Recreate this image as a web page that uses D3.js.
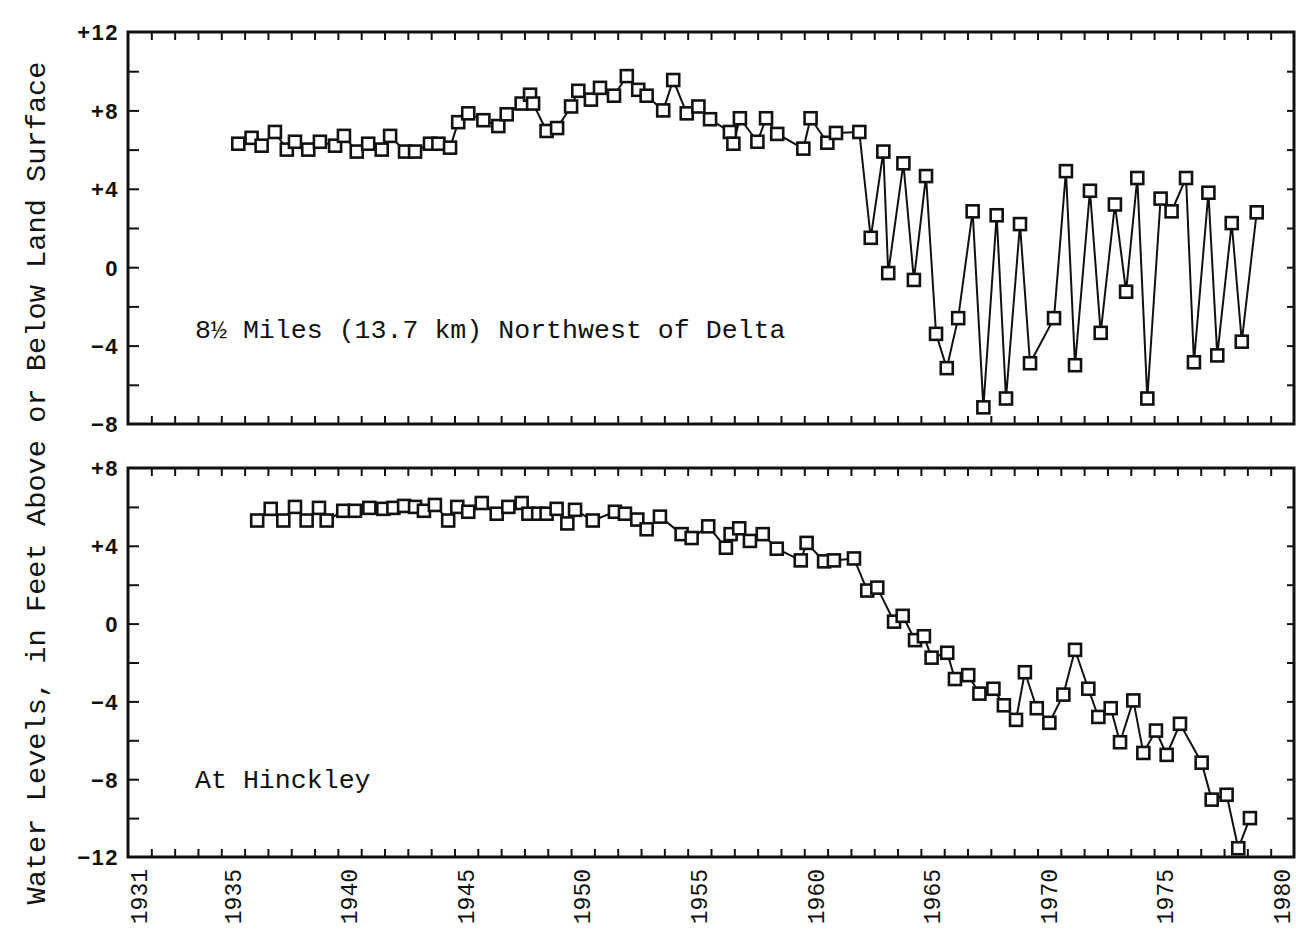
<!DOCTYPE html>
<html>
<head>
<meta charset="utf-8">
<script src="https://cdn.jsdelivr.net/npm/d3@7"></script>
<style>
  html, body { margin: 0; padding: 0; background: #fff; }
  svg { display: block; }
  .mono { font-family: "Liberation Mono", "DejaVu Sans Mono", monospace; fill: #111; }
  .num { font-family: "Liberation Sans", Arial, sans-serif; font-weight: bold; fill: #111; font-size: 22px; letter-spacing: 1.5px; }
</style>
</head>
<body>
<div id="chart"></div>
<script>
// label years on the bottom axis
const yearLabels = [1931, 1935, 1940, 1945, 1950, 1955, 1960, 1965, 1970, 1975, 1980];
const topTicks = [12, 8, 4, 0, -4, -8];
const bottomTicks = [8, 4, 0, -4, -8, -12];

// well 8 1/2 miles northwest of Delta (time in decimal years, level in feet)
const deltaTime = [1935.73, 1936.30, 1936.73, 1937.30, 1937.81, 1938.16, 1938.73, 1939.23, 1939.88, 1940.26,
  1940.81, 1941.30, 1941.88, 1942.24, 1942.88, 1943.31, 1943.95, 1944.31, 1944.81, 1945.16,
  1945.59, 1946.24, 1946.88, 1947.24, 1947.88, 1948.24, 1948.37, 1948.95, 1949.40, 1950.00,
  1950.31, 1950.85, 1951.24, 1951.84, 1952.39, 1952.88, 1953.24, 1953.95, 1954.38, 1954.96,
  1955.46, 1955.96, 1956.81, 1956.96, 1957.24, 1957.99, 1958.36, 1958.84, 1959.96, 1960.27,
  1960.99, 1961.36, 1962.36, 1962.85, 1963.39, 1963.60, 1964.25, 1964.70, 1965.22, 1965.65,
  1966.11, 1966.60, 1967.22, 1967.68, 1968.25, 1968.65, 1969.25, 1969.68, 1970.71, 1971.22,
  1971.61, 1972.25, 1972.71, 1973.32, 1973.80, 1974.28, 1974.71, 1975.28, 1975.75, 1976.37,
  1976.71, 1977.33, 1977.71, 1978.33, 1978.76, 1979.40];
const deltaLevel = [6.3, 6.6, 6.2, 6.9, 6.0, 6.4, 6.0, 6.4, 6.2, 6.7,
  5.9, 6.3, 6.0, 6.7, 5.9, 5.9, 6.3, 6.3, 6.1, 7.4,
  7.85, 7.5, 7.2, 7.8, 8.35, 8.8, 8.35, 6.95, 7.1, 8.2,
  9.0, 8.55, 9.15, 8.75, 9.75, 9.05, 8.75, 8.0, 9.55, 7.85,
  8.2, 7.55, 6.9, 6.3, 7.6, 6.4, 7.6, 6.8, 6.05, 7.6,
  6.35, 6.85, 6.9, 1.5, 5.9, -0.3, 5.3, -0.65, 4.65, -3.4,
  -5.15, -2.6, 2.85, -7.15, 2.65, -6.7, 2.2, -4.9, -2.6, 4.9,
  -5.0, 3.9, -3.35, 3.2, -1.25, 4.55, -6.7, 3.5, 2.85, 4.55,
  -4.85, 3.8, -4.5, 2.25, -3.8, 2.8];

// well at Hinckley
const hinckleyTime = [1936.54, 1937.12, 1937.66, 1938.16, 1938.66, 1939.19, 1939.52, 1940.23, 1940.73, 1941.35,
  1941.95, 1942.38, 1942.84, 1943.31, 1943.69, 1944.16, 1944.73, 1945.12, 1945.59, 1946.17,
  1946.81, 1947.31, 1947.88, 1948.17, 1948.59, 1948.95, 1949.38, 1949.84, 1950.17, 1950.93,
  1951.88, 1952.31, 1952.84, 1953.24, 1953.81, 1954.74, 1955.17, 1955.88, 1956.64, 1956.84,
  1957.21, 1957.67, 1958.22, 1958.82, 1959.85, 1960.10, 1960.85, 1961.27, 1962.13, 1962.70,
  1963.13, 1963.85, 1964.22, 1964.75, 1965.13, 1965.46, 1966.13, 1966.46, 1967.03, 1967.51,
  1968.11, 1968.56, 1969.08, 1969.46, 1969.97, 1970.51, 1971.11, 1971.61, 1972.18, 1972.61,
  1973.14, 1973.54, 1974.11, 1974.54, 1975.08, 1975.54, 1976.11, 1977.04, 1977.47, 1978.11,
  1978.61, 1979.11];
const hinckleyLevel = [5.3, 5.9, 5.3, 6.0, 5.3, 5.95, 5.3, 5.8, 5.8, 5.95,
  5.9, 5.95, 6.05, 6.0, 5.8, 6.1, 5.3, 6.0, 5.75, 6.2,
  5.65, 6.0, 6.2, 5.65, 5.65, 5.65, 5.9, 5.15, 5.85, 5.3,
  5.75, 5.65, 5.35, 4.85, 5.5, 4.6, 4.4, 5.0, 3.9, 4.6,
  4.9, 4.25, 4.6, 3.85, 3.25, 4.15, 3.2, 3.25, 3.35, 1.7,
  1.85, 0.1, 0.4, -0.85, -0.65, -1.75, -1.5, -2.85, -2.65, -3.6,
  -3.35, -4.2, -4.95, -2.5, -4.35, -5.1, -3.65, -1.35, -3.35, -4.8,
  -4.35, -6.1, -3.95, -6.65, -5.5, -6.75, -5.15, -7.15, -9.05, -8.8,
  -11.55, -10.0];

const W = 1296, H = 933;

const svg = d3.select('#chart').append('svg')
  .attr('width', W)
  .attr('height', H);

// shared time scale
const x = d3.scaleLinear().domain([1931, 1981]).range([128, 1294]);
const yearTicks = d3.range(1932, 1981);

const panels = [
  { time: deltaTime, level: deltaLevel, domain: [-8, 12], range: [424, 32], labels: topTicks,
    note: '8½ Miles (13.7 km) Northwest of Delta', noteY: 338 },
  { time: hinckleyTime, level: hinckleyLevel, domain: [-12, 8], range: [857, 468], labels: bottomTicks,
    note: 'At Hinckley', noteY: 788 }
];

panels.forEach((p, i) => {
  const y = d3.scaleLinear().domain(p.domain).range(p.range);
  const g = svg.append('g');
  const [y0, y1] = p.range;
  const sideTicks = d3.range(p.domain[0] + 2, p.domain[1], 2);

  // inward ticks on all four edges
  g.append('g')
    .attr('transform', `translate(0,${y1})`)
    .call(d3.axisBottom(x).tickValues(yearTicks).tickSize(8).tickFormat(''));
  g.append('g')
    .attr('transform', `translate(0,${y0})`)
    .call(d3.axisTop(x).tickValues(yearTicks).tickSize(8).tickFormat(''));
  g.append('g')
    .attr('transform', `translate(${x.range()[0]},0)`)
    .call(d3.axisRight(y).tickValues(sideTicks).tickSize(11).tickFormat(''));
  g.append('g')
    .attr('transform', `translate(${x.range()[1]},0)`)
    .call(d3.axisLeft(y).tickValues(sideTicks).tickSize(7).tickFormat(''));
  g.selectAll('.domain').remove();
  g.selectAll('.tick line').attr('stroke', '#111').attr('stroke-width', 2);

  // frame
  g.append('rect')
    .attr('x', x.range()[0])
    .attr('y', y1)
    .attr('width', x.range()[1] - x.range()[0])
    .attr('height', y0 - y1)
    .attr('fill', 'none')
    .attr('stroke', '#111')
    .attr('stroke-width', 3);

  // value labels
  const lab = g.append('g')
    .attr('transform', `translate(${x.range()[0]},0)`)
    .call(d3.axisLeft(y).tickValues(p.labels).tickSize(0).tickPadding(9)
      .tickFormat(d => d > 0 ? '+' + d : d < 0 ? '\u2212' + Math.abs(d) : '0'));
  lab.attr('font-size', null).attr('font-family', null);
  lab.select('.domain').remove();
  lab.selectAll('text')
    .attr('class', 'num')
    .attr('dy', '0.36em');

  // series
  const pts = p.time.map((t, k) => ({ t: t, v: p.level[k] }));
  const line = d3.line()
    .x(d => x(d.t))
    .y(d => y(d.v));

  g.append('path')
    .datum(pts)
    .attr('d', line)
    .attr('fill', 'none')
    .attr('stroke', '#111')
    .attr('stroke-width', 2);

  g.selectAll('.pt')
    .data(pts)
    .enter()
    .append('rect')
    .attr('class', 'pt')
    .attr('x', d => x(d.t) - 6)
    .attr('y', d => y(d.v) - 6)
    .attr('width', 12)
    .attr('height', 12)
    .attr('fill', '#fff')
    .attr('stroke', '#111')
    .attr('stroke-width', 2.6);

  g.append('text')
    .attr('class', 'mono')
    .attr('x', 195)
    .attr('y', p.noteY)
    .attr('font-size', 26.6)
    .text(p.note);
});

// year labels under the lower panel
const xl = svg.append('g')
  .attr('transform', 'translate(0,857)')
  .call(d3.axisBottom(x).tickValues(yearLabels.map(d => d + 0.5)).tickSize(0)
    .tickFormat(d => Math.floor(d)));
xl.attr('font-size', null).attr('font-family', null);
xl.select('.domain').remove();
xl.selectAll('text')
  .attr('class', 'mono')
  .attr('font-size', 23)
  .attr('transform', 'rotate(-90)')
  .attr('x', -12)
  .attr('y', -1)
  .attr('dy', '0.35em')
  .style('text-anchor', 'end');

// axis title
svg.append('text')
  .attr('class', 'mono')
  .attr('transform', 'translate(45,483) rotate(-90)')
  .attr('text-anchor', 'middle')
  .attr('font-size', 28)
  .attr('textLength', 843)
  .attr('lengthAdjust', 'spacingAndGlyphs')
  .text('Water Levels, in Feet Above or Below Land Surface');
</script>
</body>
</html>
